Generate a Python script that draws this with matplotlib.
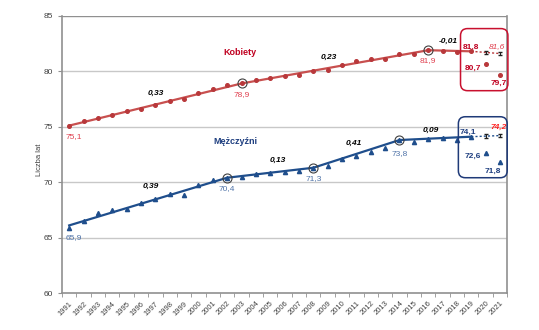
import matplotlib
matplotlib.use("Agg")
import matplotlib.pyplot as plt
from matplotlib.patches import FancyBboxPatch
import numpy as np

plt.rcParams['font.family'] = ['Liberation Sans', 'DejaVu Sans']

years = list(range(1991, 2022))
women = [75.1, 75.5, 75.8, 76.1, 76.4, 76.6, 77.0, 77.3, 77.5, 78.0, 78.4, 78.8, 78.9,
         79.2, 79.4, 79.6, 79.7, 80.0, 80.1, 80.6, 80.9, 81.1, 81.1, 81.6, 81.6, 81.9,
         81.8, 81.7, 81.8, 80.7, 79.7]
men = [65.9, 66.5, 67.2, 67.5, 67.6, 68.1, 68.5, 68.9, 68.8, 69.7, 70.2, 70.4, 70.5,
       70.7, 70.8, 70.9, 71.0, 71.3, 71.5, 72.1, 72.4, 72.7, 73.1, 73.8, 73.6, 73.9,
       74.0, 73.8, 74.1, 72.6, 71.8]

women_trend_years = [1991, 2003, 2016, 2019]
women_trend_vals = [75.1, 78.9, 81.9, 81.8]
men_trend_years = [1991, 2002, 2008, 2014, 2019]
men_trend_vals = [66.1, 70.4, 71.3, 73.8, 74.1]

proj_years = [2019, 2020, 2021]
women_proj = [81.8, 81.7, 81.6]
men_proj = [74.1, 74.15, 74.2]
proj_err = [0.0, 0.15, 0.15]

women_slopes = ["0,33", "0,23", "-0,01"]
men_slopes = ["0,39", "0,13", "0,41", "0,09"]

red_line = "#C8504F"
red_mark = "#B8383B"
red_text = "#E0404F"
red_dark = "#C00020"
blue_line = "#1F4E8C"
blue_text = "#4F73A8"
blue_dark = "#1F3F80"

fig = plt.figure(figsize=(5.39, 3.30), dpi=100)
ax = fig.add_axes([0.115, 0.112, 0.826, 0.840])

ax.set_xlim(1990.5, 2021.5)
ax.set_ylim(60, 85)
ax.set_yticks([60, 65, 70, 75, 80, 85])
for y in [65, 70, 75, 80]:
    ax.axhline(y, color="#C8C8C8", lw=1.0, zorder=0)
ax.axhline(85, color="#909090", lw=1.0, zorder=0)

ax.set_xticks(years)
ax.set_xticklabels([str(y) for y in years], rotation=45, ha="right",
                   rotation_mode="anchor", fontsize=5.5, color="#404040")
ax.set_xticks(np.arange(1990.5, 2022, 1.0), minor=True)
ax.tick_params(axis="x", which="major", length=0, pad=5)
ax.tick_params(axis="x", which="minor", length=3, color="#909090")
ax.tick_params(axis="y", length=3, color="#909090", labelsize=6, labelcolor="#404040")
for s in ["left", "bottom", "right"]:
    ax.spines[s].set_color("#909090")
    ax.spines[s].set_linewidth(1.2)
ax.spines["top"].set_visible(False)
ax.set_ylabel("Liczba lat", fontsize=5.5, color="#404040")
ax.yaxis.set_label_coords(-0.042, 0.48)

# Trend lines
ax.plot(women_trend_years, women_trend_vals, color=red_line, lw=1.6, zorder=3)
ax.plot(men_trend_years, men_trend_vals, color=blue_line, lw=1.6, zorder=3)
ax.plot(proj_years, women_proj, color=red_mark, lw=1.0, ls=(0, (1.5, 1.5)), zorder=3)
ax.plot(proj_years, men_proj, color=blue_line, lw=1.0, ls=(0, (1.5, 1.5)), zorder=3)
ax.errorbar(proj_years[1:], women_proj[1:], yerr=proj_err[1:], fmt="none",
            ecolor="#202020", elinewidth=0.8, capsize=1.5, zorder=4)
ax.errorbar(proj_years[1:], men_proj[1:], yerr=proj_err[1:], fmt="none",
            ecolor="#202020", elinewidth=0.8, capsize=1.5, zorder=4)

# Data points
ax.plot(years, women, ls="none", marker="o", ms=2.6, color=red_mark, zorder=4)
ax.plot(years, men, ls="none", marker="^", ms=3.0, color=blue_line, zorder=4)

# Joinpoint circles
for yr, v in zip(women_trend_years[1:3], women_trend_vals[1:3]):
    ax.plot(yr, v, marker="o", ms=6.5, mfc="none", mec="#404040", mew=0.8, zorder=5)
for yr, v in zip(men_trend_years[1:4], men_trend_vals[1:4]):
    ax.plot(yr, v, marker="o", ms=6.5, mfc="none", mec="#404040", mew=0.8, zorder=5)

# Value labels under joinpoints
def lab(x, y, t, c, **kw):
    ax.text(x, y, t, color=c, fontsize=6, ha="center", va="center", **kw)

lab(1991.35, 74.1, "75,1", red_text)
lab(2003, 77.9, "78,9", red_text)
lab(2016, 80.95, "81,9", red_text)
lab(1991.35, 65.0, "65,9", blue_text)
lab(2002, 69.4, "70,4", blue_text)
lab(2008, 70.3, "71,3", blue_text)
lab(2014, 72.6, "73,8", blue_text)

# Slopes
sl_kw = dict(fontsize=6, fontweight="bold", fontstyle="italic", color="#000000",
             ha="center", va="center")
ax.text(1997.0, 78.05, women_slopes[0], **sl_kw)
ax.text(2009.1, 81.25, women_slopes[1], **sl_kw)
ax.text(2017.4, 82.7, women_slopes[2], **sl_kw)
ax.text(1996.7, 69.6, men_slopes[0], **sl_kw)
ax.text(2005.55, 72.0, men_slopes[1], **sl_kw)
ax.text(2010.8, 73.5, men_slopes[2], **sl_kw)
ax.text(2016.2, 74.7, men_slopes[3], **sl_kw)

# Series names
ax.text(2002.9, 81.65, "Kobiety", color=red_dark, fontsize=6.5, fontweight="bold",
        ha="center", va="center")
ax.text(2002.6, 73.7, "Mężczyźni", color=blue_dark, fontsize=6.5, fontweight="bold",
        ha="center", va="center")

# Projection labels
bkw = dict(fontsize=6, fontweight="bold", ha="center", va="center")
ax.text(2018.95, 82.2, "81,8", color=red_dark, **bkw)
ax.text(2020.75, 82.2, "81,6", color=red_text, fontsize=6, fontstyle="italic",
        ha="center", va="center")
ax.text(2019.1, 80.25, "80,7", color=red_dark, **bkw)
ax.text(2020.9, 78.9, "79,7", color=red_dark, **bkw)
ax.text(2018.75, 74.5, "74,1", color=blue_dark, **bkw)
ax.text(2020.9, 74.9, "74,2", color="#FF2020", fontsize=6, fontstyle="italic",
        fontweight="bold", ha="center", va="center")
ax.text(2019.1, 72.3, "72,6", color=blue_dark, **bkw)
ax.text(2020.5, 71.0, "71,8", color=blue_dark, **bkw)

# Rounded boxes (defined in data units, drawn in display pixels)
fig.canvas.draw()
def rbox(x0, x1, y0, y1, color):
    (px0, py0) = ax.transData.transform((x0, y0))
    (px1, py1) = ax.transData.transform((x1, y1))
    p = FancyBboxPatch((px0, py0), px1 - px0, py1 - py0,
                       boxstyle="round,pad=0,rounding_size=7",
                       fc="none", ec=color, lw=1.1, transform=None,
                       clip_on=False, zorder=6)
    fig.patches.append(p)

rbox(2018.25, 2021.55, 78.25, 83.85, "#C8102E")
rbox(2018.1, 2021.5, 70.4, 75.9, "#1F3A78")

fig.savefig("out.png", dpi=100)
